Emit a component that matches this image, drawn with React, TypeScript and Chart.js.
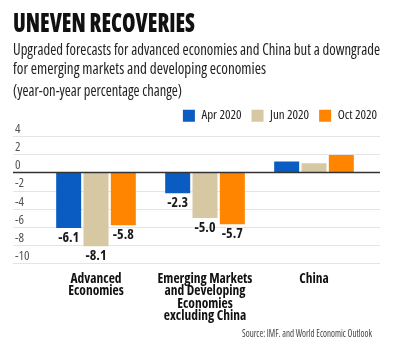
import React, { useEffect, useLayoutEffect, useRef } from "react";
import { Chart, registerables } from "chart.js";

Chart.register(...registerables);

// ---------- data ----------
const categories: string[][] = [
  ["Advanced", "Economies"],
  ["Emerging Markets", "and Developing", "Economies", "excluding China"],
  ["China"],
];
const seriesNames = ["Apr 2020", "Jun 2020", "Oct 2020"];
const apr2020 = [-6.1, -2.3, 1.2];
const jun2020 = [-8.1, -5.0, 1.0];
const oct2020 = [-5.8, -5.7, 1.9];
const yMin = -10;
const yMax = 4;
const yStep = 2;

const titleText = "UNEVEN RECOVERIES";
const subtitleLines = [
  "Upgraded forecasts for advanced economies and China but a downgrade",
  "for emerging markets and developing economies",
];
const unitText = "(year-on-year percentage change)";
const sourceText = "Source: IMF. and World Economic Outlook";

// ---------- styles ----------
const COLORS = ["#0a5bc2", "#d6c8a2", "#ff8400"];
const FAMILY = '"Open Sans", "Roboto", sans-serif';
const GRID_LEFT = 13;
const GRID_RIGHT = 380;

function FitText(props: {
  text: string;
  left: number;
  top: number;
  width: number;
  style: React.CSSProperties;
}) {
  const ref = useRef<HTMLSpanElement>(null);
  useLayoutEffect(() => {
    const el = ref.current;
    if (!el) return;
    el.style.transform = "none";
    const w = el.getBoundingClientRect().width;
    if (w > 0) el.style.transform = `scaleX(${props.width / w})`;
  });
  return (
    <span
      ref={ref}
      style={{
        position: "absolute",
        left: props.left,
        top: props.top,
        whiteSpace: "nowrap",
        transformOrigin: "left top",
        fontFamily: FAMILY,
        fontStretch: "condensed",
        ...props.style,
      }}
    >
      {props.text}
    </span>
  );
}

const extendedGrid = {
  id: "extendedGrid",
  beforeDatasetsDraw(chart: any) {
    const y = chart.scales.y;
    const ctx = chart.ctx;
    ctx.save();
    y.ticks.forEach((t: any) => {
      if (t.value === 0) return;
      const py = Math.round(y.getPixelForValue(t.value)) + 0.5;
      ctx.strokeStyle = "#e4e4e4";
      ctx.lineWidth = 1;
      ctx.beginPath();
      ctx.moveTo(GRID_LEFT, py);
      ctx.lineTo(GRID_RIGHT, py);
      ctx.stroke();
    });
    ctx.restore();
  },
  afterDatasetsDraw(chart: any) {
    const y = chart.scales.y;
    const ctx = chart.ctx;
    ctx.save();
    const py = y.getPixelForValue(0);
    ctx.strokeStyle = "#333";
    ctx.lineWidth = 1.5;
    ctx.beginPath();
    ctx.moveTo(GRID_LEFT, py);
    ctx.lineTo(GRID_RIGHT, py);
    ctx.stroke();
    // value labels under negative bars
    ctx.fillStyle = "#1a1a1a";
    ctx.font = `bold condensed 14px ${FAMILY}`;
    ctx.textAlign = "center";
    ctx.textBaseline = "middle";
    chart.data.datasets.forEach((ds: any, di: number) => {
      const meta = chart.getDatasetMeta(di);
      meta.data.forEach((el: any, i: number) => {
        const v = ds.data[i];
        if (v < 0) ctx.fillText(v.toFixed(1), el.x, el.y + 10);
      });
    });
    ctx.restore();
  },
};

export default function App() {
  const canvasRef = useRef<HTMLCanvasElement>(null);

  useEffect(() => {
    const chart = new Chart(canvasRef.current!, {
      type: "bar",
      data: {
        labels: categories,
        datasets: [apr2020, jun2020, oct2020].map((d, i) => ({
          label: seriesNames[i],
          data: d,
          backgroundColor: COLORS[i],
          borderWidth: 0,
          categoryPercentage: 0.752,
          barPercentage: 0.915,
        })),
      },
      options: {
        responsive: false,
        animation: false,
        devicePixelRatio: 1,
        layout: { padding: { top: 99.2, left: 15, right: 13, bottom: 26.5 } },
        plugins: {
          legend: {
            position: "top",
            align: "end",
            labels: {
              boxWidth: 12,
              boxHeight: 12,
              padding: 10,
              color: "#222",
              font: { family: FAMILY, size: 13, weight: "condensed" as any },
            },
          },
          // thin spacer between legend and plot area
          subtitle: {
            display: true,
            text: " ",
            position: "top",
            weight: 0,
            padding: 0,
            font: { size: 3.8, lineHeight: 1 },
          } as any,
          tooltip: { enabled: false },
        },
        scales: {
          x: {
            grid: { display: false },
            border: { display: false },
            ticks: {
              color: "#111",
              padding: 1,
              maxRotation: 0,
              autoSkip: false,
              font: { family: FAMILY, size: 13.5, weight: "bold condensed" as any, lineHeight: 0.926 },
            },
          },
          y: {
            min: yMin,
            max: yMax,
            grid: { display: false },
            border: { display: false },
            afterFit: (s: any) => {
              s.width = 26.5;
            },
            ticks: {
              stepSize: yStep,
              autoSkip: false,
              crossAlign: "far",
              labelOffset: -7,
              color: "#555",
              font: { family: FAMILY, size: 13, weight: "condensed" as any },
            },
          },
          yr: {
            position: "right",
            display: true,
            grid: { display: false },
            border: { display: false },
            ticks: { display: false },
            afterFit: (s: any) => {
              s.width = 18.5;
            },
          },
        },
      },
      plugins: [extendedGrid],
    });
    return () => chart.destroy();
  }, []);

  return (
    <div style={{ position: "absolute", left: 0, top: 0, width: 400, height: 350, background: "#fff", overflow: "hidden" }}>
      <canvas ref={canvasRef} width={400} height={350} style={{ position: "absolute", left: 0, top: 0 }} />
      <FitText text={titleText} left={13} top={8.3} width={182} style={{ fontSize: 27, fontWeight: 800, lineHeight: "27px", color: "#111" }} />
      <FitText text={subtitleLines[0]} left={13} top={40} width={367} style={{ fontSize: 17, lineHeight: "17px", color: "#222" }} />
      <FitText text={subtitleLines[1]} left={13} top={59} width={253} style={{ fontSize: 17, lineHeight: "17px", color: "#222" }} />
      <FitText text={unitText} left={13} top={81} width={169} style={{ fontSize: 17, lineHeight: "17px", color: "#222" }} />
      <FitText text={sourceText} left={242} top={327.6} width={130} style={{ fontSize: 10, lineHeight: "10px", color: "#444" }} />
    </div>
  );
}
